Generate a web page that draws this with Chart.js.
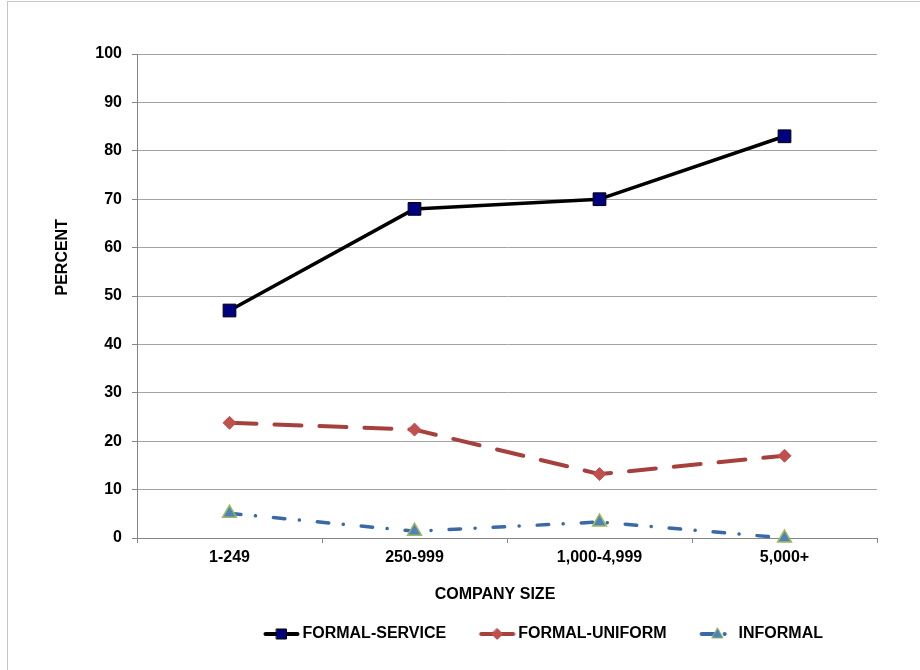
<!DOCTYPE html>
<html>
<head>
<meta charset="utf-8">
<script src="https://cdn.jsdelivr.net/npm/chart.js@4.4.1/dist/chart.umd.min.js"></script>
<style>
  html, body { margin: 0; padding: 0; background: #fff; overflow: hidden; }
  #frame { position: absolute; left: 7px; top: 1px; width: 1000px; height: 1000px;
           border-left: 1px solid #c6c6c6; border-top: 1px solid #c6c6c6; }
  #wrap { position: absolute; left: 0; top: 0; width: 920px; height: 670px; }
</style>
</head>
<body>
<div id="frame"></div>
<div id="wrap"><canvas id="c" width="920" height="670"></canvas></div>
<script>
// Company size categories and share (%) of each program type
const companySizes = ['1-249', '250-999', '1,000-4,999', '5,000+'];
const formalService = [47, 68, 70, 83];
const formalUniform = [23.8, 22.4, 13.2, 17];
const informal = [5.1, 1.4, 3.3, 0];
const seriesNames = ['FORMAL-SERVICE', 'FORMAL-UNIFORM', 'INFORMAL'];
const yAxisTitle = 'PERCENT';
const xAxisTitle = 'COMPANY SIZE';
const yMin = 0, yMax = 100, yStep = 10;

const FONT_FAMILY = '"Liberation Sans", Arial, Helvetica, sans-serif';
const boldFont = { family: FONT_FAMILY, size: 16, weight: 'bold' };

const styles = [
  { line: '#000000', width: 3.5, dash: [], marker: 'square', fill: '#000080', stroke: '#000000' },
  { line: '#A5403D', width: 4, dash: [27, 18], marker: 'diamond', fill: '#C0504D', stroke: '#C0504D' },
  { line: '#3B69A6', width: 3.5, dash: [11.5, 14.5, 0.1, 18], marker: 'triangle', fill: '#4F81BD', stroke: '#9BBB59' }
];

// Small line-plus-marker swatches for the legend
function legendIcon(s) {
  const c = document.createElement('canvas');
  c.width = 62; c.height = 16;
  const g = c.getContext('2d');
  g.strokeStyle = s.line; g.lineWidth = 4; g.lineCap = 'round';
  g.setLineDash(s.marker === 'triangle' ? [14, 9, 0.1, 20] : []);
  g.beginPath(); g.moveTo(27.5, 8); g.lineTo(59.5, 8); g.stroke();
  g.setLineDash([]);
  const cx = 43.5, cy = 8;
  g.fillStyle = s.fill; g.strokeStyle = s.stroke; g.lineWidth = 1;
  g.beginPath();
  if (s.marker === 'square') {
    g.rect(cx - 5, cy - 5, 10, 10);
  } else if (s.marker === 'diamond') {
    g.moveTo(cx, cy - 5.5); g.lineTo(cx + 5.5, cy); g.lineTo(cx, cy + 5.5); g.lineTo(cx - 5.5, cy);
    g.closePath();
  } else {
    g.moveTo(cx, cy - 6); g.lineTo(cx + 5.5, cy + 4); g.lineTo(cx - 5.5, cy + 4);
    g.closePath();
  }
  g.fill(); g.stroke();
  return c;
}
const legendIcons = styles.map(legendIcon);

// Legend row sits right of the centre line under the plot
const LEGEND_SHIFT = -41;
const legendNudge = {
  id: 'legendNudge',
  afterLayout(chart) {
    const l = chart.legend;
    if (l) { l.left += LEGEND_SHIFT; l.right += LEGEND_SHIFT; }
  }
};

// Axis titles: the vertical one a little above the axis middle,
// the horizontal one slightly left of the plot centre
const axisTitles = {
  id: 'axisTitles',
  afterDraw(chart) {
    const { ctx, chartArea } = chart;
    const ys = chart.scales.y, xs = chart.scales.x;
    ctx.save();
    ctx.font = 'bold 16px ' + FONT_FAMILY;
    ctx.fillStyle = '#000';
    ctx.textAlign = 'center';
    ctx.textBaseline = 'middle';
    ctx.fillText(xAxisTitle, (chartArea.left + chartArea.right) / 2 - 12, xs.bottom - 18.5);
    ctx.translate(ys.left + 63, chartArea.top + 0.42 * (chartArea.bottom - chartArea.top));
    ctx.rotate(-Math.PI / 2);
    ctx.fillText(yAxisTitle, 0, 0);
    ctx.restore();
  }
};

function makeDataset(label, data, s, pointStyle, radius, borderW) {
  return {
    label, data,
    borderColor: s.line, backgroundColor: s.fill,
    borderWidth: s.width, borderDash: s.dash, borderCapStyle: 'round', borderJoinStyle: 'round',
    tension: 0, fill: false, clip: false,
    pointStyle, pointRadius: radius, pointHoverRadius: radius,
    pointBackgroundColor: s.fill, pointBorderColor: s.stroke, pointBorderWidth: borderW
  };
}

new Chart(document.getElementById('c'), {
  type: 'line',
  data: {
    labels: companySizes,
    datasets: [
      makeDataset(seriesNames[0], formalService, styles[0], 'rect', 9, 1),
      makeDataset(seriesNames[1], formalUniform, styles[1], 'rectRot', 6.5, 1),
      makeDataset(seriesNames[2], informal, styles[2], 'triangle', 8, 1.5)
    ]
  },
  options: {
    responsive: false,
    animation: false,
    devicePixelRatio: 1,
    layout: { padding: { top: 54, right: 43, bottom: 18, left: 0 } },
    plugins: {
      title: { display: false },
      tooltip: { enabled: false },
      legend: {
        display: true,
        position: 'bottom',
        align: 'end',
        labels: {
          usePointStyle: true,
          pointStyleWidth: 51,
          boxHeight: 16,
          padding: 13,
          color: '#000',
          font: boldFont,
          generateLabels(chart) {
            const items = Chart.defaults.plugins.legend.labels.generateLabels(chart);
            items.forEach((it, i) => { it.pointStyle = legendIcons[i]; it.fontColor = '#000'; });
            return items;
          }
        }
      }
    },
    scales: {
      x: {
        type: 'category',
        offset: true,
        grid: { display: true, drawOnChartArea: false, drawTicks: true, tickLength: 5, offset: true, color: '#868686' },
        border: { display: true, color: '#868686', width: 1 },
        ticks: { color: '#000', font: boldFont, padding: 5, maxRotation: 0, autoSkip: false },
        title: { display: false },
        afterFit(s) { s.height = 75; }
      },
      y: {
        min: yMin, max: yMax,
        ticks: { stepSize: yStep, color: '#000', font: boldFont, padding: 10 },
        grid: { color: '#a3a3a3', tickLength: 5, tickColor: '#868686' },
        border: { display: true, color: '#868686', width: 1 },
        afterFit(s) { s.width = 137; }
      }
    }
  },
  plugins: [legendNudge, axisTitles]
});
</script>
</body>
</html>
